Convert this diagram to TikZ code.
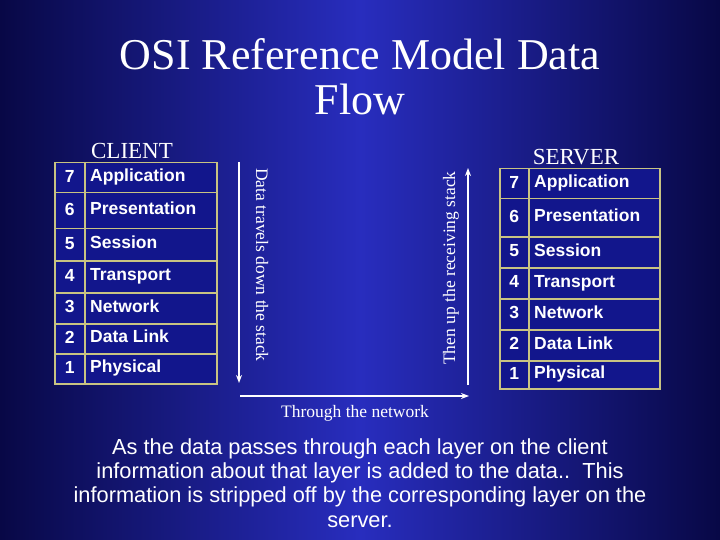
\documentclass[tikz,border=0pt]{standalone}
\usepackage{fontspec}
\setmainfont{Liberation Serif}
\newfontfamily\arialf{Liberation Sans}
\usetikzlibrary{arrows.meta}
\definecolor{bgdark}{RGB}{8,8,70}
\definecolor{bgmid}{RGB}{40,45,190}
\definecolor{cellfill}{RGB}{18,22,140}
\definecolor{celledge}{RGB}{200,195,130}
\begin{document}
\begin{tikzpicture}[x=1pt,y=-1pt,
  cell/.style={draw=celledge,line width=1.5pt,fill=cellfill,inner sep=0pt,anchor=north west},
  celltext/.style={text=white,font=\arialf\bfseries\fontsize{17.5}{19}\selectfont,inner sep=0pt,text height=13pt,text depth=4pt},
  lbl/.style={text=white,font=\fontsize{17.5}{19}\selectfont},
  flow/.style={draw=white,line width=1.5pt,-{Stealth[length=8pt,width=6pt]}}]
\useasboundingbox (0,0) rectangle (720,540);
\shade[left color=bgdark,right color=bgmid] (0,0) rectangle (360,540);
\shade[left color=bgmid,right color=bgdark] (360,0) rectangle (720,540);
\node[text=white,font=\fontsize{44}{45}\selectfont,align=center] (title) at (360,77) {OSI Reference Model Data\\Flow};
% client
\node[text=white,font=\fontsize{23}{25}\selectfont] (client) at (132,151) {CLIENT};
\def\crows{162/192/7/Application,192/228/6/Presentation,228/260/5/Session,260/292/4/Transport,292/323/3/Network,323/353/2/Data Link,353/383/1/Physical}
\foreach \a/\b/\n/\t in \crows {
  \pgfmathsetmacro\h{\b-\a}
  \pgfmathsetmacro\m{(\a+\b)/2}
  \node[cell,minimum width=30pt,minimum height=\h pt] (cn\n) at (54,\a) {};
  \node[cell,minimum width=132pt,minimum height=\h pt] (ct\n) at (84,\a) {};
  \node[celltext] (cnl\n) at (cn\n.center) {\n};
  \node[celltext,anchor=west] (ctl\n) at (90,\m) {\t};
}
% server
\node[text=white,font=\fontsize{23}{25}\selectfont] (server) at (576,157) {SERVER};
\def\srows{168/198/7/Application,198/236/6/Presentation,236/267/5/Session,267/298/4/Transport,298/329/3/Network,329/360/2/Data Link,360/388/1/Physical}
\foreach \a/\b/\n/\t in \srows {
  \pgfmathsetmacro\h{\b-\a}
  \pgfmathsetmacro\m{(\a+\b)/2}
  \node[cell,minimum width=29pt,minimum height=\h pt] (sn\n) at (499,\a) {};
  \node[cell,minimum width=131pt,minimum height=\h pt] (st\n) at (528,\a) {};
  \node[celltext] (snl\n) at (sn\n.center) {\n};
  \node[celltext,anchor=west] (stl\n) at (534,\m) {\t};
}
% arrows
\coordinate (dtop) at (239,162);
\coordinate (dbot) at (239,383);
\coordinate (nleft) at (240,396);
\coordinate (nright) at (469,396);
\coordinate (ubot) at (468,385);
\coordinate (utop) at (468,168);
\draw[flow] (dtop) -- (dbot);
\draw[flow] (nleft) -- (nright);
\draw[flow] (ubot) -- (utop);
\node[lbl,rotate=-90] (down) at (262,265) {Data travels down the stack};
\node[lbl,rotate=90] (up) at (451,268) {Then up the receiving stack};
\node[lbl] (net) at (355,413) {Through the network};
\node[text=white,font=\arialf\fontsize{21.8}{24.3}\selectfont,align=center] (note) at (360,483) {As the data passes through each layer on the client\\information about that layer is added to the data..\ \ This\\information is stripped off by the corresponding layer on the\\server.};
\end{tikzpicture}
\end{document}
